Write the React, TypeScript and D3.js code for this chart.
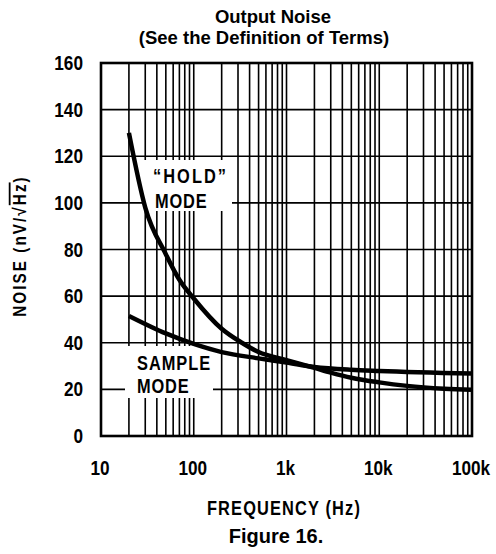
import { useEffect, useRef } from "react"
import * as d3 from "d3"

const holdFreq = [20, 30, 50, 70, 100, 200, 330, 500, 1000, 2000, 3000, 5000, 10000, 20000, 50000, 100000]
const holdNoise = [130, 98, 78, 67, 59, 46, 40, 36, 32.5, 29.2, 27.2, 25, 23, 21.5, 20.3, 19.8]
const sampleFreq = [20, 50, 100, 200, 500, 1000, 2000, 5000, 10000, 100000]
const sampleNoise = [51.5, 44, 39.5, 36, 33.3, 31.5, 29.6, 28.4, 27.9, 26.8]

const xTicks = [10, 100, 1000, 10000, 100000]
const xTickLabels = ["10", "100", "1k", "10k", "100k"]
const yTicks = [0, 20, 40, 60, 80, 100, 120, 140, 160]

const sans = "'Liberation Sans', Arial, Helvetica, sans-serif"

export default function App() {
  const svgRef = useRef<SVGSVGElement>(null)

  useEffect(() => {
    if (!svgRef.current) return
    const svg = d3.select(svgRef.current)
    svg.selectAll("*").remove()

    const left = 101
    const right = 472
    const top = 63
    const bottom = 436

    const x = d3.scaleLog().domain([10, 100000]).range([left, right])
    const y = d3.scaleLinear().domain([0, 160]).range([bottom, top])

    // condensed bold text: no narrow font installed, so squeeze Liberation Sans
    const narrow = (
      tx: number,
      ty: number,
      s: string,
      size: number,
      sx: number,
      ls = 0,
      anchor = "start",
      rot = 0,
    ) =>
      svg
        .append("text")
        .attr("transform", `translate(${tx},${ty}) rotate(${rot}) scale(${sx},1)`)
        .attr("text-anchor", anchor)
        .attr("font-family", sans)
        .attr("font-weight", "bold")
        .attr("font-size", size)
        .attr("letter-spacing", ls)
        .text(s)

    // minor + major vertical grid lines (every 1..9 per decade)
    const vLines: number[] = []
    for (let dec = 10; dec < 100000; dec *= 10) {
      for (let m = 1; m <= 9; m++) vLines.push(dec * m)
    }
    vLines.push(100000)

    const grid = svg.append("g").attr("stroke", "#000").attr("stroke-width", 1.6)
    grid
      .selectAll("line.v")
      .data(vLines)
      .join("line")
      .attr("x1", (d) => x(d))
      .attr("x2", (d) => x(d))
      .attr("y1", top)
      .attr("y2", bottom)
    grid
      .selectAll("line.h")
      .data(yTicks)
      .join("line")
      .attr("x1", left)
      .attr("x2", right)
      .attr("y1", (d) => y(d))
      .attr("y2", (d) => y(d))

    // frame
    svg
      .append("rect")
      .attr("x", left)
      .attr("y", top)
      .attr("width", right - left)
      .attr("height", bottom - top)
      .attr("fill", "none")
      .attr("stroke", "#000")
      .attr("stroke-width", 2.6)

    // white boxes behind the curve labels
    svg.append("rect").attr("x", 143).attr("y", 160).attr("width", 89).attr("height", 51).attr("fill", "#fff")
    svg.append("rect").attr("x", 125).attr("y", 346).attr("width", 88).attr("height", 52).attr("fill", "#fff")

    const line = d3
      .line<[number, number]>()
      .x((d) => x(d[0]))
      .y((d) => y(d[1]))
      .curve(d3.curveMonotoneX)

    const holdPts = holdFreq.map((f, i) => [f, holdNoise[i]] as [number, number])
    const samplePts = sampleFreq.map((f, i) => [f, sampleNoise[i]] as [number, number])

    svg
      .append("path")
      .attr("d", line(holdPts))
      .attr("fill", "none")
      .attr("stroke", "#000")
      .attr("stroke-width", 4.5)
    svg
      .append("path")
      .attr("d", line(samplePts))
      .attr("fill", "none")
      .attr("stroke", "#000")
      .attr("stroke-width", 4.5)

    // y tick labels
    yTicks.forEach((t) => narrow(83, y(t) + 7, String(t), 20, 0.86, 0, "end"))

    // x tick labels
    xTicks.forEach((t, i) => narrow(x(t) - 1, 475, xTickLabels[i], 20, 0.86, 0, "middle"))

    // curve labels
    narrow(153, 183, "\u201cHOLD\u201d", 20, 0.82, 2.5)
    narrow(155, 208, "MODE", 20, 0.82, 1)
    narrow(137, 370, "SAMPLE", 20, 0.82, 1.2)
    narrow(137, 393, "MODE", 20, 0.82, 1)

    // axis titles
    narrow(284, 515, "FREQUENCY (Hz)", 20, 0.82, 1.4, "middle")

    const yt = narrow(26, 246, "", 18, 0.85, 2.4, "middle", -90)
    yt.append("tspan").text("NOISE (nV/\u221a")
    yt.append("tspan").style("text-decoration", "overline").text("Hz")
    yt.append("tspan").text(")")

    // titles
    svg
      .append("text")
      .attr("x", 273)
      .attr("y", 23)
      .attr("text-anchor", "middle")
      .attr("font-family", sans)
      .attr("font-weight", "bold")
      .attr("font-size", 18.5)
      .text("Output Noise")
    svg
      .append("text")
      .attr("x", 264)
      .attr("y", 44)
      .attr("text-anchor", "middle")
      .attr("font-family", sans)
      .attr("font-weight", "bold")
      .attr("font-size", 18.5)
      .text("(See the Definition of Terms)")
    svg
      .append("text")
      .attr("x", 276)
      .attr("y", 543)
      .attr("text-anchor", "middle")
      .attr("font-family", sans)
      .attr("font-weight", "bold")
      .attr("font-size", 20)
      .text("Figure 16.")
  }, [])

  return (
    <svg
      ref={svgRef}
      width={496}
      height={554}
      style={{ position: "absolute", left: 0, top: 0, background: "#fff" }}
    />
  )
}
